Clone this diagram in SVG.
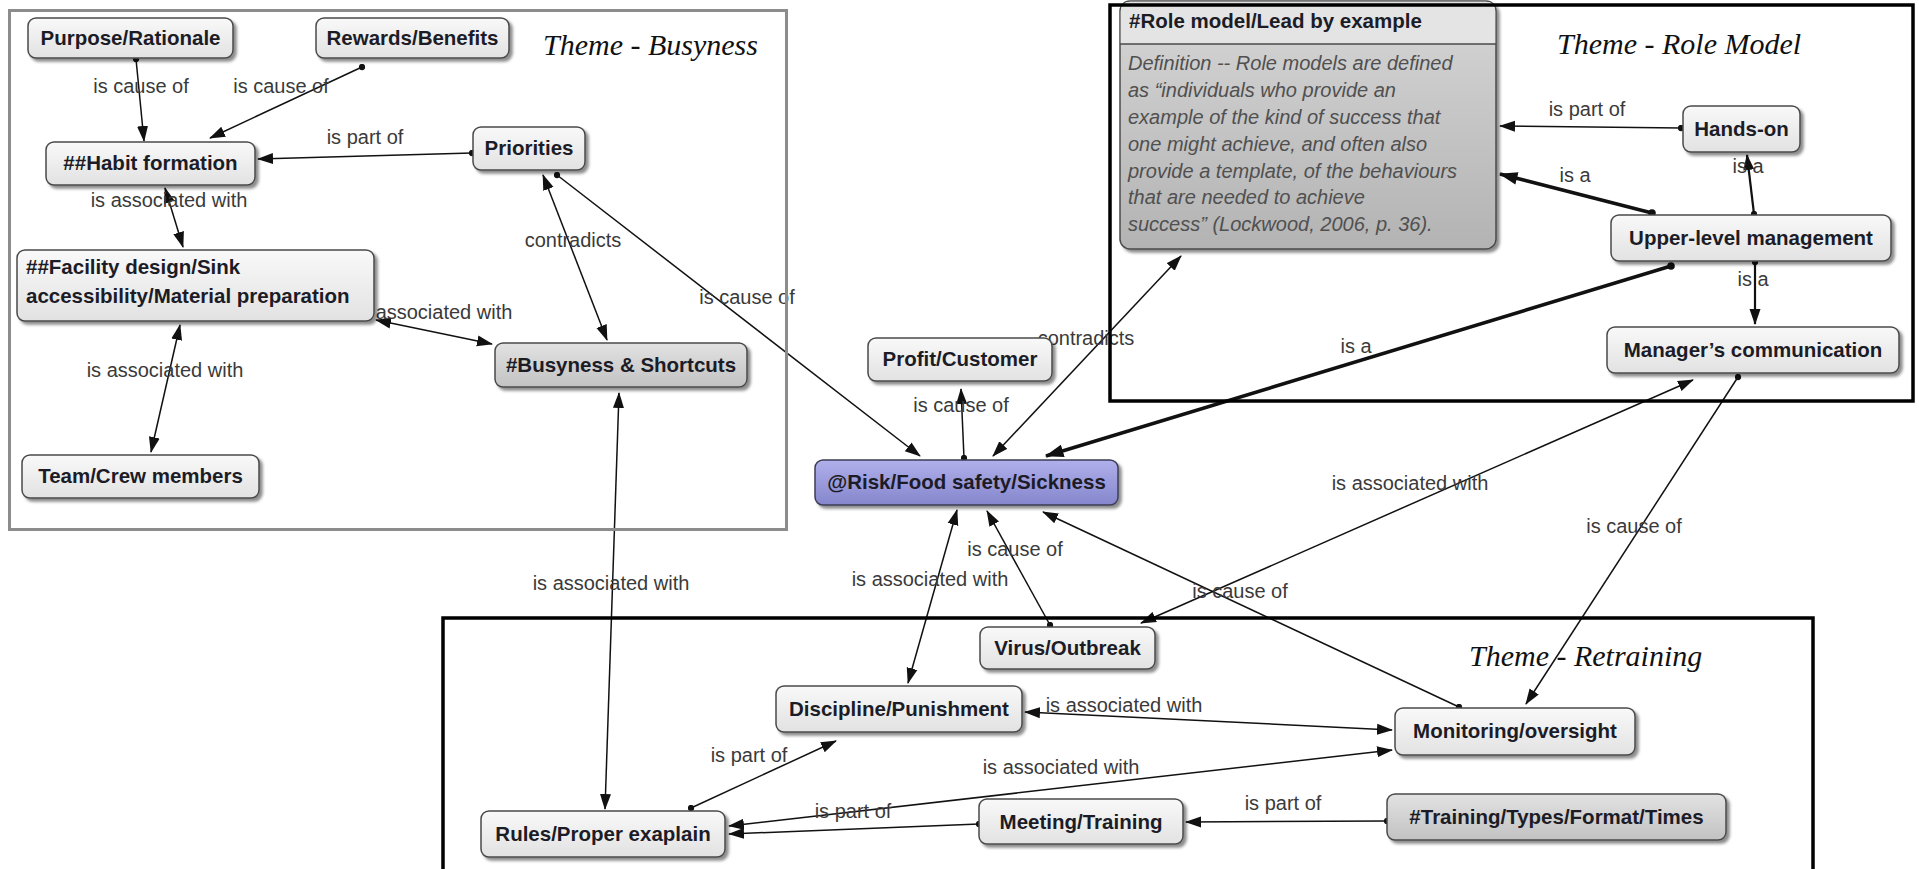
<svg xmlns="http://www.w3.org/2000/svg" width="1919" height="869" viewBox="0 0 1919 869">
<style>
.nb{stroke:#4a4a4a;stroke-width:1.5;fill:url(#gn);filter:url(#sh)}
.nd{stroke:#4a4a4a;stroke-width:1.5;fill:url(#gd);filter:url(#sh)}
.np{stroke:#3c3c55;stroke-width:1.5;fill:url(#gp);filter:url(#sh)}
.nt{font-family:"Liberation Sans",Arial,sans-serif;font-weight:bold;font-size:20.5px;fill:#1c1c26;text-anchor:middle}
.ntl{font-family:"Liberation Sans",Arial,sans-serif;font-weight:bold;font-size:20.5px;fill:#1c1c26}
.c{fill:none;stroke:#111;stroke-width:1.5;marker-start:url(#d);marker-end:url(#a)}
.cb{fill:none;stroke:#111;stroke-width:1.5;marker-start:url(#a);marker-end:url(#a)}
.ck{fill:none;stroke:#111;stroke-width:3.5;marker-start:url(#d2);marker-end:url(#ak)}
.cm{fill:none;stroke:#111;stroke-width:2.2;marker-start:url(#d);marker-end:url(#a)}
.lb{font-family:"Liberation Sans",Arial,sans-serif;font-size:20px;fill:#3a3a3a;text-anchor:middle}
.th{font-family:"Liberation Serif","Times New Roman",serif;font-style:italic;font-size:30px;fill:#111}
.def{font-family:"Liberation Sans",Arial,sans-serif;font-style:italic;font-size:20px;fill:#505050}
.frame{fill:none}
</style>
<defs>
<linearGradient id="gn" x1="0" y1="0" x2="0" y2="1"><stop offset="0" stop-color="#f9f9f9"/><stop offset="1" stop-color="#e2e2e2"/></linearGradient>
<linearGradient id="gd" x1="0" y1="0" x2="0" y2="1"><stop offset="0" stop-color="#e2e2e2"/><stop offset="1" stop-color="#c2c2c2"/></linearGradient>
<linearGradient id="gp" x1="0" y1="0" x2="0" y2="1"><stop offset="0" stop-color="#b0b0ec"/><stop offset="1" stop-color="#8585cc"/></linearGradient>
<linearGradient id="gr" x1="0" y1="0" x2="0" y2="1"><stop offset="0" stop-color="#d6d6d6"/><stop offset="1" stop-color="#b3b3b3"/></linearGradient>
<filter id="sh" x="-10%" y="-20%" width="130%" height="160%"><feDropShadow dx="3" dy="3" stdDeviation="1.5" flood-color="#000" flood-opacity="0.45"/></filter>
<marker id="a" viewBox="0 0 16 12" refX="15" refY="6" markerWidth="16" markerHeight="12" markerUnits="userSpaceOnUse" orient="auto-start-reverse"><path d="M0,0.5 L16,6 L0,11.5 Z" fill="#111"/></marker>
<marker id="ak" viewBox="0 0 16 12" refX="15" refY="6" markerWidth="19" markerHeight="14" markerUnits="userSpaceOnUse" orient="auto-start-reverse"><path d="M0,0.5 L16,6 L0,11.5 Z" fill="#111"/></marker>
<marker id="d" viewBox="0 0 8 8" refX="4" refY="4" markerWidth="7" markerHeight="7" markerUnits="userSpaceOnUse"><circle cx="4" cy="4" r="3.6" fill="#111"/></marker>
<marker id="d2" viewBox="0 0 8 8" refX="4" refY="4" markerWidth="8" markerHeight="8" markerUnits="userSpaceOnUse"><circle cx="4" cy="4" r="3.8" fill="#111"/></marker>
</defs>
<rect width="1919" height="869" fill="#fff"/>

<g id="connectors">
<path class="c" d="M136,59 L144,141"/>
<path class="c" d="M362,67 L210,138"/>
<path class="c" d="M472,153 L258,159"/>
<path class="cb" d="M165,188 L183,247"/>
<path class="cb" d="M376,320 L492,344"/>
<path class="cb" d="M180,325 L151,452"/>
<path class="cb" d="M543,175 L607,340"/>
<path class="c" d="M557,175 L920,456"/>
<path class="cb" d="M619,393 L605,809"/>
<path class="c" d="M964,458 L961,389"/>
<path class="cb" d="M993,456 L1181,256"/>
<path class="ck" d="M1671,266 L1046,456"/>
<path class="c" d="M1681,128 L1500,126"/>
<path class="ck" d="M1652,213 L1500,174"/>
<path class="cm" d="M1754,214 L1747,155"/>
<path class="cm" d="M1755,262 L1755,324"/>
<path class="cb" d="M1141,623 L1693,380"/>
<path class="c" d="M1738,377 L1526,704"/>
<path class="c" d="M1050,625 L987,511"/>
<path class="cb" d="M957,510 L908,683"/>
<path class="c" d="M1459,707 L1043,512"/>
<path class="cb" d="M1025,712 L1392,730"/>
<path class="c" d="M691,808 L836,741"/>
<path class="cb" d="M729,826 L1392,750"/>
<path class="c" d="M979,824 L729,834"/>
<path class="c" d="M1387,821 L1186,822"/>
<text class="lb" x="141" y="93">is cause of</text>
<text class="lb" x="281" y="93">is cause of</text>
<text class="lb" x="365" y="144">is part of</text>
<text class="lb" x="169" y="207">is associated with</text>
<text class="lb" x="434" y="319">is associated with</text>
<text class="lb" x="165" y="377">is associated with</text>
<text class="lb" x="573" y="247">contradicts</text>
<text class="lb" x="747" y="304">is cause of</text>
<text class="lb" x="611" y="590">is associated with</text>
<text class="lb" x="961" y="412">is cause of</text>
<text class="lb" x="1086" y="345">contradicts</text>
<text class="lb" x="1356" y="353">is a</text>
<text class="lb" x="1587" y="116">is part of</text>
<text class="lb" x="1575" y="182">is a</text>
<text class="lb" x="1748" y="173">is a</text>
<text class="lb" x="1753" y="286">is a</text>
<text class="lb" x="1410" y="490">is associated with</text>
<text class="lb" x="1634" y="533">is cause of</text>
<text class="lb" x="1015" y="556">is cause of</text>
<text class="lb" x="930" y="586">is associated with</text>
<text class="lb" x="1240" y="598">is cause of</text>
<text class="lb" x="1124" y="712">is associated with</text>
<text class="lb" x="749" y="762">is part of</text>
<text class="lb" x="1061" y="774">is associated with</text>
<text class="lb" x="853" y="818">is part of</text>
<text class="lb" x="1283" y="810">is part of</text>
</g>

<g id="n-purpose"><rect class="nb" x="28" y="18" width="205" height="40" rx="8"/><text class="nt" x="130.5" y="45">Purpose/Rationale</text></g>
<g id="n-rewards"><rect class="nb" x="316" y="18" width="193" height="40" rx="8"/><text class="nt" x="412.5" y="45">Rewards/Benefits</text></g>
<g id="n-habit"><rect class="nb" x="46" y="142" width="209" height="43" rx="8"/><text class="nt" x="150.5" y="170">##Habit formation</text></g>
<g id="n-priorities"><rect class="nb" x="473" y="127" width="112" height="43" rx="8"/><text class="nt" x="529" y="155">Priorities</text></g>
<g id="n-facility"><rect class="nb" x="17" y="250" width="357" height="71" rx="8"/><text class="ntl" x="26" y="274">##Facility design/Sink</text><text class="ntl" x="26" y="303">accessibility/Material preparation</text></g>
<g id="n-busyness"><rect class="nd" x="495" y="343" width="252" height="44" rx="8"/><text class="nt" x="621" y="372">#Busyness &amp; Shortcuts</text></g>
<g id="n-team"><rect class="nb" x="22" y="455" width="237" height="43" rx="8"/><text class="nt" x="140.5" y="483">Team/Crew members</text></g>
<g id="n-profit"><rect class="nb" x="868" y="338" width="184" height="43" rx="8"/><text class="nt" x="960" y="366">Profit/Customer</text></g>
<g id="n-risk"><rect class="np" x="815" y="460" width="303" height="45" rx="8"/><text class="nt" x="966.5" y="489">@Risk/Food safety/Sickness</text></g>
<g id="n-rolemodel">
<rect x="1120" y="1" width="376" height="248" rx="10" fill="url(#gr)" stroke="#4a4a4a" stroke-width="1.5" filter="url(#sh)"/>
<path d="M1120.75,44 L1120.75,11 Q1120.75,1.75 1130,1.75 L1486,1.75 Q1495.25,1.75 1495.25,11 L1495.25,44 Z" fill="#e4e4e4"/>
<line x1="1120" y1="44" x2="1496" y2="44" stroke="#4a4a4a" stroke-width="1.5"/>
<text class="ntl" x="1129" y="28">#Role model/Lead by example</text>
<text class="def" x="1128" y="70">Definition -- Role models are defined</text>
<text class="def" x="1128" y="97">as “individuals who provide an</text>
<text class="def" x="1128" y="124">example of the kind of success that</text>
<text class="def" x="1128" y="151">one might achieve, and often also</text>
<text class="def" x="1128" y="178">provide a template, of the behaviours</text>
<text class="def" x="1128" y="204">that are needed to achieve</text>
<text class="def" x="1128" y="231">success” (Lockwood, 2006, p. 36).</text>
</g>
<g id="n-handson"><rect class="nb" x="1683" y="106" width="117" height="46" rx="8"/><text class="nt" x="1741.5" y="136">Hands-on</text></g>
<g id="n-upper"><rect class="nb" x="1611" y="215" width="280" height="46" rx="8"/><text class="nt" x="1751" y="245">Upper-level management</text></g>
<g id="n-manager"><rect class="nb" x="1607" y="327" width="292" height="46" rx="8"/><text class="nt" x="1753" y="357">Manager’s communication</text></g>
<g id="n-virus"><rect class="nb" x="980" y="627" width="175" height="42" rx="8"/><text class="nt" x="1067.5" y="655">Virus/Outbreak</text></g>
<g id="n-discipline"><rect class="nb" x="776" y="686" width="246" height="46" rx="8"/><text class="nt" x="899" y="716">Discipline/Punishment</text></g>
<g id="n-monitoring"><rect class="nb" x="1395" y="708" width="240" height="47" rx="8"/><text class="nt" x="1515" y="738">Monitoring/oversight</text></g>
<g id="n-rules"><rect class="nb" x="481" y="811" width="244" height="46" rx="8"/><text class="nt" x="603" y="841">Rules/Proper exaplain</text></g>
<g id="n-meeting"><rect class="nb" x="979" y="799" width="204" height="45" rx="8"/><text class="nt" x="1081" y="829">Meeting/Training</text></g>
<g id="n-training"><rect class="nd" x="1387" y="794" width="339" height="46" rx="8"/><text class="nt" x="1556.5" y="824">#Training/Types/Format/Times</text></g>

<g id="themes">
<rect class="frame" x="9.5" y="10.5" width="777" height="519" stroke="#8c8c8c" stroke-width="3"/>
<rect class="frame" x="1110" y="5" width="803" height="396" stroke="#000" stroke-width="3.5"/>
<rect class="frame" x="443" y="618" width="1370" height="300" stroke="#000" stroke-width="3.5"/>
<text class="th" x="543" y="55">Theme - Busyness</text>
<text class="th" x="1557" y="54">Theme - Role Model</text>
<text class="th" x="1469" y="666">Theme - Retraining</text>
</g>
</svg>
